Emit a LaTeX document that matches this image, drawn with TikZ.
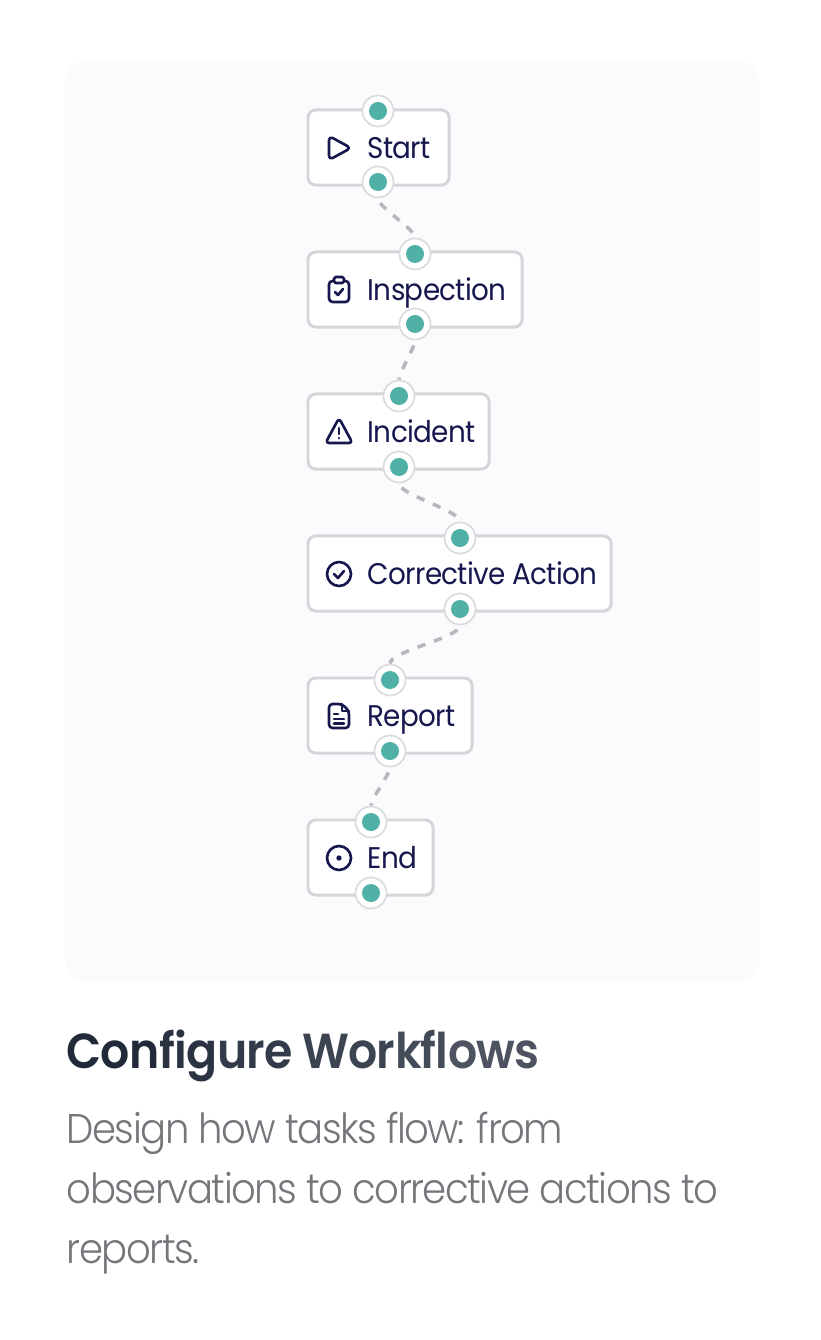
\documentclass[tikz,border=0pt]{standalone}
\usepackage{fontspec}
\setmainfont[FakeStretch=0.93,LetterSpace=-2.2]{Poppins}
\newfontfamily\lightfont[FakeStretch=0.93,LetterSpace=-3.6]{Poppins Light}
\newfontfamily\titlefont[FakeStretch=0.93,LetterSpace=-1.9]{Poppins SemiBold}
\usetikzlibrary{backgrounds}
\definecolor{panelfill}{HTML}{F9FBFD}
\definecolor{boxline}{HTML}{D4D6DA}
\definecolor{portline}{HTML}{DADCDF}
\definecolor{portfill}{HTML}{4FB0A5}
\definecolor{inkdark}{HTML}{17174F}
\definecolor{dashline}{HTML}{B5B7BB}
\definecolor{bodygrey}{HTML}{75767B}
\definecolor{titledark}{HTML}{222A3A}
\definecolor{titlelight}{HTML}{4D5360}
\tikzset{
  x=0.01cm, y=-0.01cm,
  taskbox/.style={draw=boxline, line width=0.85pt, fill=white, rounded corners=2.2pt,
    anchor=north west, minimum height=0.75cm, inner sep=0pt},
  tasklabel/.style={anchor=base west, inner sep=0pt, text=inkdark,
    font=\fontsize{8.5pt}{10pt}\selectfont},
  port/.style={circle, draw=portline, line width=0.5pt, fill=white, minimum size=0.31cm, inner sep=0pt,
    path picture={\fill[portfill] (path picture bounding box.center) circle[radius=0.09cm];}},
  flowline/.style={draw=dashline, line width=1pt, dash pattern=on 2.4pt off 2.6pt, dash phase=3.5pt,
    out=-90, in=90, looseness=0.4},
  iconline/.style={draw=inkdark, line width=0.75pt, line cap=round, line join=round},
  playicon/.pic={\draw[iconline, rounded corners=1.2pt] (-10,-12) -- (-10,12) -- (12,0) -- cycle;},
  clipicon/.pic={
    \draw[iconline, rounded corners=1pt] (-10,-9) rectangle (10,12);
    \draw[iconline, fill=white, rounded corners=0.5pt] (-5,-13) rectangle (5,-7);
    \draw[iconline] (-4,2) -- (-1,5) -- (4,-1);},
  warnicon/.pic={
    \draw[iconline, rounded corners=1pt] (0,-14) -- (13.5,11) -- (-13.5,11) -- cycle;
    \draw[iconline] (0,-4) -- (0,2) (0,6) -- (0,6.2);},
  checkicon/.pic={
    \draw[iconline] (0,0) circle[radius=12];
    \draw[iconline] (-5,0) -- (-1,4) -- (5,-3);},
  pageicon/.pic={
    \draw[iconline, rounded corners=1pt] (-10,-12) -- (3,-12) -- (10,-5) -- (10,12) -- (-10,12) -- cycle;
    \draw[iconline] (3,-12) -- (3,-5) -- (10,-5);
    \draw[iconline] (-5,-2) -- (-1,-2) (-5,3) -- (5,3) (-5,7.5) -- (5,7.5);},
  doticon/.pic={
    \draw[iconline] (0,0) circle[radius=12];
    \fill[inkdark] (0,0) circle[radius=2.7];}
}
\begin{document}
\begin{tikzpicture}
  \useasboundingbox (0,0) rectangle (820,1340);

  % Panel
  \begin{scope}[on background layer]
    \fill[panelfill, rounded corners=0.24cm] (65,60) rectangle (760,982);
  \end{scope}

  % Start
  \node[taskbox, minimum width=1.41cm] (startbox) at (306.5,108.5) {};
  \node[tasklabel] (startlabel) at (367,158.5) {Start};
  \pic at (339,148) {playicon};
  \node[port] (starttop) at (378,111) {};
  \node[port] (startbottom) at (378,182) {};

  % Inspection
  \node[taskbox, minimum width=2.14cm] (inspectionbox) at (306.5,250.5) {};
  \node[tasklabel] (inspectionlabel) at (367,300.5) {Inspection};
  \pic at (339,290) {clipicon};
  \node[port] (inspectiontop) at (415,254) {};
  \node[port] (inspectionbottom) at (415,324) {};

  % Incident
  \node[taskbox, minimum width=1.81cm] (incidentbox) at (306.5,392.5) {};
  \node[tasklabel] (incidentlabel) at (367,442.5) {Incident};
  \pic at (339,432) {warnicon};
  \node[port] (incidenttop) at (399,396) {};
  \node[port] (incidentbottom) at (399,467) {};

  % Corrective Action
  \node[taskbox, minimum width=3.03cm] (correctivebox) at (306.5,534.5) {};
  \node[tasklabel] (correctivelabel) at (367,584.5) {Corrective Action};
  \pic at (339,574) {checkicon};
  \node[port] (correctivetop) at (460,538) {};
  \node[port] (correctivebottom) at (460,609) {};

  % Report
  \node[taskbox, minimum width=1.64cm] (reportbox) at (306.5,676.5) {};
  \node[tasklabel] (reportlabel) at (367,726.5) {Report};
  \pic at (339,716) {pageicon};
  \node[port] (reporttop) at (390,680) {};
  \node[port] (reportbottom) at (390,751) {};

  % End
  \node[taskbox, minimum width=1.25cm] (endbox) at (306.5,818.5) {};
  \node[tasklabel] (endlabel) at (367,868.5) {End};
  \pic at (339,858) {doticon};
  \node[port] (endtop) at (371,822) {};
  \node[port] (endbottom) at (371,893) {};

  % Connectors
  \begin{scope}[on background layer]
    \draw[flowline] (startbottom.south) to (inspectiontop.north);
    \draw[flowline] (inspectionbottom.south) to (incidenttop.north);
    \draw[flowline] (incidentbottom.south) to (correctivetop.north);
    \draw[flowline] (correctivebottom.south) to (reporttop.north);
    \draw[flowline] (reportbottom.south) to (endtop.north);
  \end{scope}

  % Text
  \node[anchor=base west, inner sep=0pt, font=\titlefont\fontsize{14pt}{17pt}\selectfont]
    (title) at (66,1068) {\textcolor{titledark}{Con}\textcolor{titlelight!20!titledark}{fig}\textcolor{titlelight!40!titledark}{ure} \textcolor{titlelight!60!titledark}{Wor}\textcolor{titlelight!80!titledark}{kfl}\textcolor{titlelight}{ows}};
  \node[anchor=north west, inner sep=0pt, align=left, text=bodygrey, font=\lightfont\fontsize{11.8pt}{17.07pt}\selectfont]
    (body) at (66,1111) {Design how tasks flow: from\\observations to corrective actions to\\reports.};
\end{tikzpicture}
\end{document}
